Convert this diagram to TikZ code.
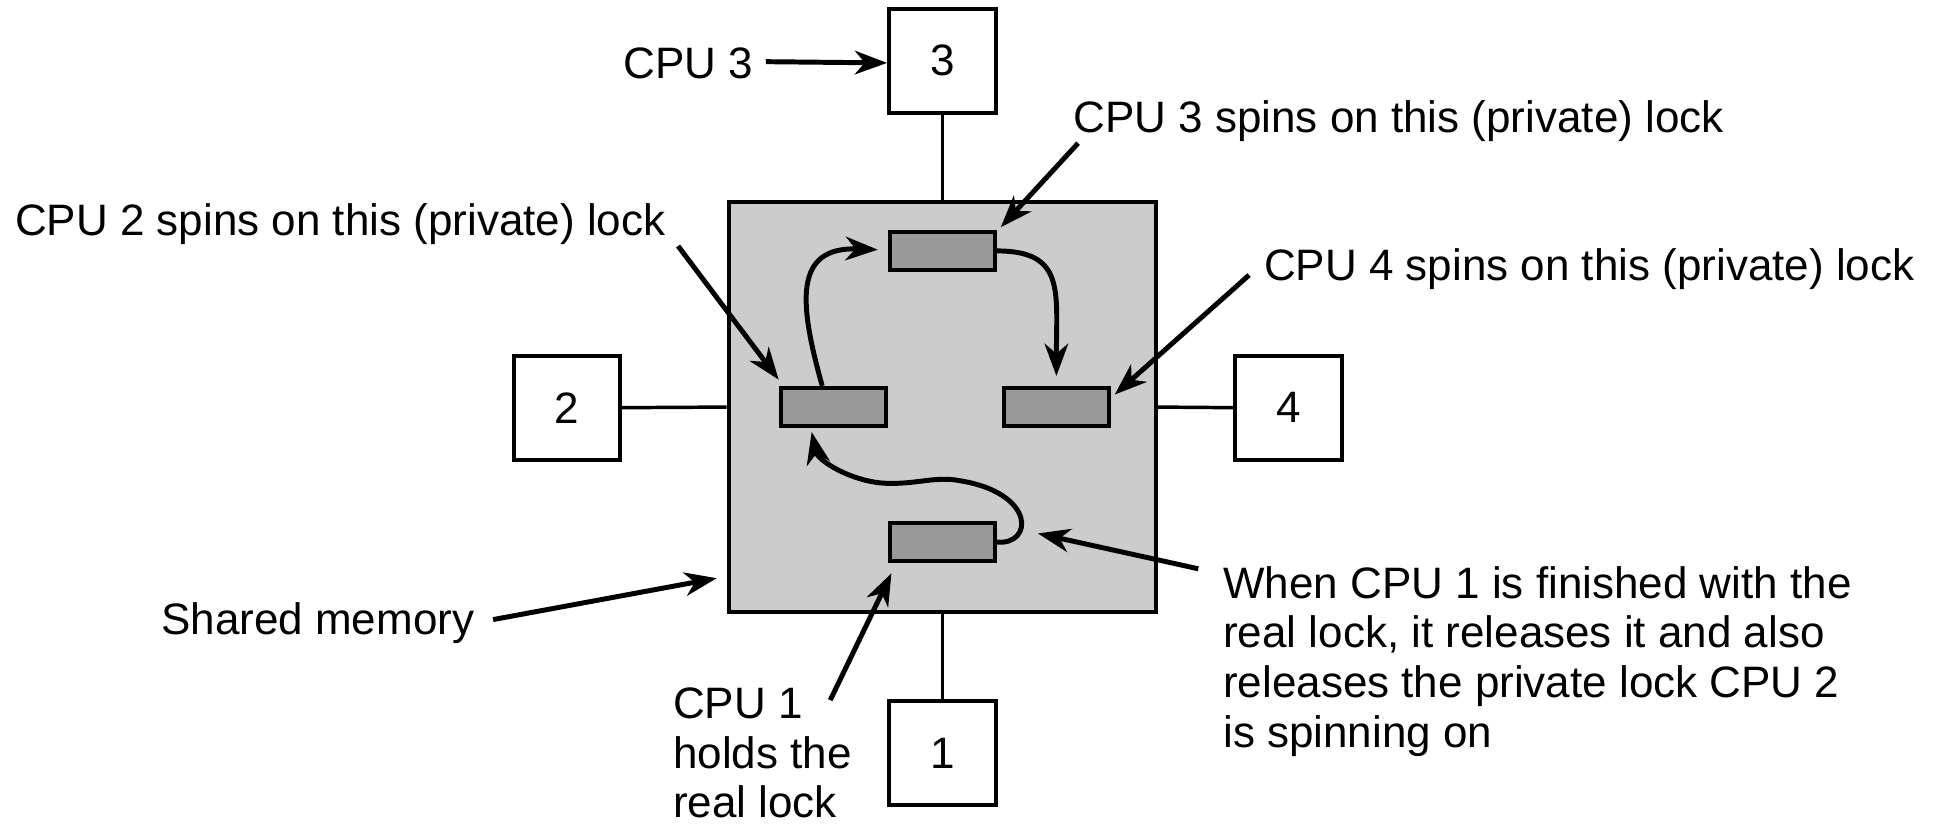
\documentclass[tikz,border=0pt]{standalone}
\usepackage{fontspec}
\setmainfont{Liberation Sans}
\usetikzlibrary{arrows.meta}
\definecolor{memgray}{HTML}{CCCCCC}
\definecolor{lockgray}{HTML}{999999}
\begin{document}
\begin{tikzpicture}[x=1pt,y=-1pt,
  every node/.style={font=\fontsize{35.5}{40}\selectfont},
  cpubox/.style={draw, line width=3.2pt, fill=white, minimum width=86pt, minimum height=84pt, inner sep=0pt},
  lockbox/.style={draw, line width=3.2pt, fill=lockgray, minimum width=85pt, minimum height=31pt, inner sep=0pt},
  membox/.style={draw, line width=3.2pt, fill=memgray, minimum width=345pt, minimum height=331pt, inner sep=0pt},
  conn/.style={line width=2.8pt},
  arr/.style={line width=4pt, -{Stealth[length=26pt,width=19pt,inset=8pt]}},
  lbl/.style={inner sep=0pt, anchor=base west, align=left},
  mlbl/.style={inner sep=0pt, anchor=north west, align=left}
]
\useasboundingbox (0,0) rectangle (1568,666);
% shared memory
\node[membox] (mem) at (760.5,328.5) {};
% CPUs
\node[cpubox] (cpu3) at (760.5,49) {3};
\node[cpubox] (cpu2) at (457.5,329) {2};
\node[cpubox] (cpu4) at (1040,329) {4};
\node[cpubox] (cpu1) at (760.5,608) {1};
\draw[conn] (cpu3.south) -- (mem.north);
\draw[conn] (cpu1.north) -- (mem.south);
\draw[conn] (cpu2.east) -- (mem.west);
\draw[conn] (cpu4.west) -- (mem.east);
% locks
\node[lockbox] (ltop) at (760.5,202.5) {};
\node[lockbox] (lleft) at (672.5,328.5) {};
\node[lockbox] (lright) at (852.5,328.5) {};
\node[lockbox] (lbot) at (760.5,437.5) {};
% curved arrows between locks
\draw[arr] (ltop.east) .. controls +(55,0) and (852.5,235) .. ([shift={(0,-8)}]lright.north);
\draw[arr] ([shift={(-9,0)}]lleft.north) .. controls (645,245) and (640,199) .. ([shift={(-8,-1)}]ltop.west);
\draw[arr] (lbot.east) .. controls (834,440) and (836,398) .. (775,388)
  .. controls (755,384) and (740,391) .. (715,390)
  .. controls (688,389) and (660,372) .. ([shift={(-17.5,3)}]lleft.south);
% labels
\node[inner sep=0pt, anchor=base east] (c3) at (608,63) {CPU 3};
\draw[arr] ([shift={(10,-1)}]c3.east) -- (c3.east -| cpu3.west);
\node[lbl] (l3) at (866,107) {CPU 3 spins on this (private) lock};
\draw[arr] ([shift={(4,1)}]l3.south west) -- ([shift={(3,-2)}]ltop.north east);
\node[lbl] (l2) at (12,190) {CPU 2 spins on this (private) lock};
\draw[arr] ([shift={(10,1)}]l2.south east) -- ([shift={(0,-5)}]lleft.north west);
\node[lbl] (l4) at (1020,226) {CPU 4 spins on this (private) lock};
\draw[arr] ([shift={(-12,-4)}]l4.base west) -- ([shift={(3,7)}]lright.north east);
\node[lbl] (sm) at (130,512) {Shared memory};
\draw[arr] ([shift={(15,-12)}]sm.base east) -- ([shift={(-8,-29)}]mem.south west);
\node[mlbl] (c1) at (543,555) {CPU 1\\holds the\\real lock};
\draw[arr] ([shift={(127,10)}]c1.north west) -- ([shift={(3,8)}]lbot.south west);
\node[mlbl] (wh) at (987,457) {When CPU 1 is finished with the\\real lock, it releases it and also\\releases the private lock CPU 2\\is spinning on};
\draw[arr] ([shift={(-20,2)}]wh.north west) -- ([shift={(33,-7)}]lbot.east);
\end{tikzpicture}
\end{document}
